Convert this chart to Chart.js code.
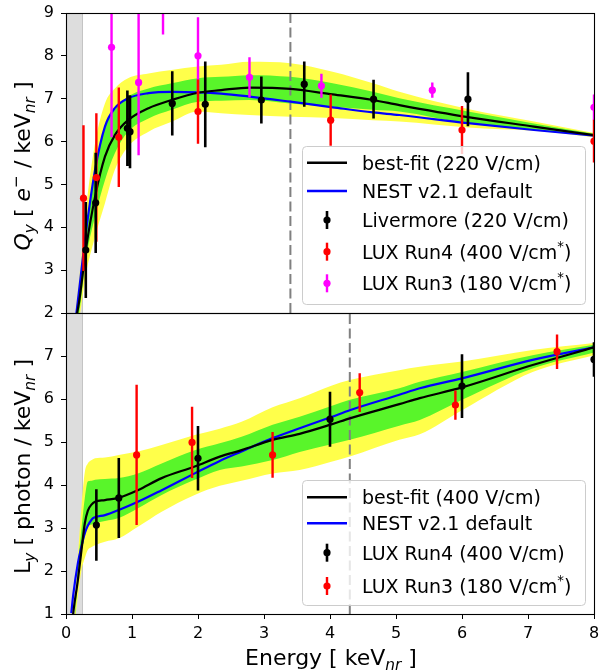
<!DOCTYPE html>
<html>
<head>
<meta charset="utf-8">
<script src="https://cdn.jsdelivr.net/npm/chart.js@4.4.0/dist/chart.umd.min.js"></script>
<style>
  html, body { margin: 0; padding: 0; background: #fff; }
  #wrap { position: relative; width: 600px; height: 671px; }
  canvas { position: absolute; left: 0; }
  #qyChart { top: 0; }
  #lyChart { top: 300px; }
</style>
</head>
<body>
<div id="wrap">
  <canvas id="qyChart" width="600" height="325"></canvas>
  <canvas id="lyChart" width="600" height="371"></canvas>
</div>
<script>
// ---- top panel: charge yield Qy ----
const qyE       = [0.15, 0.2, 0.3, 0.44, 0.59, 0.74, 0.94, 1.25, 1.6, 2.0, 2.35, 2.78, 3.4, 4.04, 4.65, 5.05, 6.09, 7.09, 8.0]
const qyBestFit = [1.85, 2.27, 3.47, 4.71, 5.65, 6.15, 6.50, 6.78, 6.97, 7.14, 7.20, 7.26, 7.23, 7.10, 6.97, 6.85, 6.57, 6.35, 6.15]
const qyNest    = [1.90, 2.55, 3.86, 5.34, 6.35, 6.78, 7.01, 7.13, 7.16, 7.15, 7.12, 7.05, 6.93, 6.80, 6.68, 6.62, 6.43, 6.27, 6.14]
const qy2sHi    = [2.10, 2.80, 4.40, 5.96, 6.89, 7.24, 7.48, 7.59, 7.67, 7.75, 7.79, 7.86, 7.83, 7.63, 7.36, 7.16, 6.76, 6.47, 6.20]
const qy2sLo    = [1.80, 1.90, 2.90, 3.78, 4.56, 5.34, 5.88, 6.23, 6.46, 6.70, 6.66, 6.62, 6.58, 6.55, 6.50, 6.47, 6.33, 6.25, 6.10]
const qy1sHi    = [2.00, 2.60, 3.95, 5.34, 6.35, 6.74, 7.05, 7.24, 7.36, 7.48, 7.51, 7.55, 7.51, 7.36, 7.16, 7.01, 6.70, 6.42, 6.18]
const qy1sLo    = [1.80, 2.00, 3.24, 4.25, 5.10, 5.73, 6.23, 6.54, 6.74, 6.93, 6.95, 6.97, 6.89, 6.81, 6.74, 6.70, 6.42, 6.28, 6.12]

const livE   = [0.30, 0.45, 0.93, 0.97, 1.61, 2.11, 2.96, 3.61, 4.66, 6.09]
const livQ   = [3.47, 4.57, 6.31, 6.23, 6.89, 6.87, 6.97, 7.34, 6.99, 6.99]
const livErr = [1.12, 1.17, 0.88, 0.85, 0.75, 1.00, 0.55, 0.53, 0.45, 0.63]

const run4QE   = [0.265, 0.46, 0.80, 2.0, 4.01, 6.0, 8.0]
const run4Q    = [4.68, 5.16, 6.10, 6.70, 6.50, 6.27, 6.01]
const run4QErr = [1.70, 1.50, 1.16, 0.75, 0.60, 0.56, 0.50]

const run3QE   = [0.69, 1.10, 1.47, 2.0, 2.78, 3.87, 5.55, 8.0]
const run3Q    = [8.20, 7.38, 9.40, 8.00, 7.50, 7.30, 7.20, 6.80]
const run3QErr = [2.10, 1.70, 0.90, 0.90, 0.47, 0.28, 0.18, 0.30]

// ---- bottom panel: light yield Ly ----
const lyE       = [0.08, 0.11, 0.18, 0.235, 0.285, 0.33, 0.39, 0.44, 0.59, 0.80, 1.09, 1.45, 1.95, 2.33, 2.66, 3.13, 3.54, 4.02, 4.30, 5.05, 5.36, 6.0, 7.07, 8.0]
const lyBestFit = [0.50, 1.02, 1.79, 2.49, 3.11, 3.40, 3.55, 3.61, 3.65, 3.70, 3.88, 4.16, 4.43, 4.66, 4.81, 5.05, 5.19, 5.41, 5.55, 5.88, 6.02, 6.27, 6.79, 7.20]
const lyNest    = [1.02, 1.45, 2.18, 2.58, 2.88, 3.05, 3.20, 3.25, 3.30, 3.42, 3.61, 3.88, 4.27, 4.56, 4.78, 5.09, 5.32, 5.58, 5.74, 6.10, 6.25, 6.48, 6.91, 7.20]
const ly2sHi    = [0.50, 0.60, 2.30, 3.50, 4.30, 4.50, 4.58, 4.62, 4.64, 4.70, 4.78, 4.93, 5.16, 5.31, 5.47, 5.81, 6.02, 6.31, 6.44, 6.67, 6.75, 6.87, 7.14, 7.30]
const ly2sLo    = [0.50, 0.60, 1.40, 2.02, 2.30, 2.49, 2.56, 2.60, 2.68, 2.76, 3.03, 3.38, 3.77, 3.98, 4.10, 4.27, 4.35, 4.54, 4.66, 5.05, 5.18, 5.74, 6.63, 7.02]
const ly1sHi    = [0.50, 0.60, 2.10, 3.00, 3.70, 4.08, 4.10, 4.12, 4.14, 4.16, 4.27, 4.50, 4.81, 4.97, 5.12, 5.40, 5.59, 5.84, 5.98, 6.25, 6.40, 6.63, 7.02, 7.26]
const ly1sLo    = [0.50, 0.60, 1.70, 2.40, 2.80, 3.03, 3.08, 3.11, 3.16, 3.23, 3.46, 3.77, 4.12, 4.35, 4.43, 4.58, 4.77, 4.95, 5.05, 5.38, 5.51, 5.98, 6.71, 7.08]

const run4LE   = [0.46, 0.80, 2.0, 4.0, 6.0, 8.0]
const run4L    = [3.07, 3.70, 4.62, 5.53, 6.30, 6.92]
const run4LErr = [0.83, 0.93, 0.75, 0.64, 0.74, 0.40]

const run3LE   = [1.07, 1.91, 3.13, 4.45, 5.90, 7.44]
const run3L    = [4.70, 4.99, 4.70, 6.15, 5.86, 7.10]
const run3LErr = [1.63, 0.83, 0.53, 0.45, 0.34, 0.40]

const xTicks = [0, 1, 2, 3, 4, 5, 6, 7, 8]
const thresholdSpan = [0, 0.25]
const qyCutLine = 3.4
const lyCutLine = 4.3

Chart.defaults.font.family = '"DejaVu Sans"'
Chart.defaults.color = '#000'

const FONT = '"DejaVu Sans"'
const YELLOW = '#ffff4a'
const GREEN = '#59f52a'

function curve(xs, ys) {
  return xs.map((x, i) => ({ x, y: ys[i] }))
}

function errorBars(xs, ys, errs) {
  const pts = []
  xs.forEach((x, i) => {
    pts.push({ x, y: ys[i] - errs[i] }, { x, y: ys[i] + errs[i] }, { x, y: null })
  })
  return pts
}

function line(data, color, width, order, extra) {
  return Object.assign({
    type: 'line', data, borderColor: color, borderWidth: width, pointRadius: 0,
    fill: false, order, clip: 0, cubicInterpolationMode: 'monotone', spanGaps: false
  }, extra || {})
}

function dots(data, color) {
  return {
    type: 'line', data, showLine: false, pointRadius: 3.6, pointBorderWidth: 0,
    pointBackgroundColor: color, borderColor: color, order: 0, clip: 0
  }
}

function bandSets(xs, hi, lo, color, order) {
  return [
    line(curve(xs, hi), 'rgba(0,0,0,0)', 0, order, { fill: '+1', backgroundColor: color }),
    line(curve(xs, lo), 'rgba(0,0,0,0)', 0, order)
  ]
}

// mixed text with sub/superscripts, drawn at the current origin
function richText(ctx, parts, size, align) {
  const fonts = parts.map(p => (p.it ? 'italic ' : '') + ((p.sub || p.sup) ? size * 0.7 : size) + 'px ' + FONT)
  let total = 0
  const widths = parts.map((p, i) => {
    ctx.font = fonts[i]
    const w = ctx.measureText(p.t).width
    total += w
    return w
  })
  let x = align === 'center' ? -total / 2 : 0
  ctx.textAlign = 'left'
  ctx.textBaseline = 'alphabetic'
  parts.forEach((p, i) => {
    ctx.font = fonts[i]
    const dy = p.sub ? size * 0.22 : p.sup ? -size * 0.42 : 0
    ctx.fillText(p.t, x, dy)
    x += widths[i]
  })
}

const spanPlugin = {
  id: 'span',
  beforeDatasetsDraw(chart) {
    const { ctx, chartArea: a, scales: { x } } = chart
    const x0 = x.getPixelForValue(thresholdSpan[0])
    const x1 = x.getPixelForValue(thresholdSpan[1])
    ctx.save()
    ctx.fillStyle = '#dddddd'
    ctx.fillRect(x0, a.top, x1 - x0, a.bottom - a.top)
    ctx.strokeStyle = '#c4c4c4'
    ctx.lineWidth = 1
    ctx.beginPath()
    ctx.moveTo(x1, a.top)
    ctx.lineTo(x1, a.bottom)
    ctx.stroke()
    ctx.restore()
  }
}

const framePlugin = {
  id: 'frame',
  afterDatasetsDraw(chart) {
    const { ctx, chartArea: a } = chart
    ctx.save()
    ctx.strokeStyle = '#000'
    ctx.lineWidth = 1.1
    ctx.strokeRect(Math.round(a.left) + 0.5, Math.round(a.top) + 0.5,
      Math.round(a.right - a.left), Math.round(a.bottom - a.top))
    ctx.restore()
  }
}

const legendPlugin = {
  id: 'boxLegend',
  afterDraw(chart, args, opts) {
    if (!opts.items) return
    const { ctx, chartArea: a } = chart
    const w = 283, h = opts.height
    const left = a.right - 9 - w, top = a.bottom - 9 - h
    ctx.save()
    ctx.fillStyle = 'rgba(255,255,255,0.8)'
    ctx.strokeStyle = '#cccccc'
    ctx.lineWidth = 1
    ctx.beginPath()
    ctx.roundRect(left + 0.5, top + 0.5, w, h, 4)
    ctx.fill()
    ctx.stroke()
    opts.items.forEach((it, i) => {
      const cy = top + opts.rows[i]
      if (it.kind === 'line') {
        ctx.strokeStyle = it.color
        ctx.lineWidth = 2.4
        ctx.beginPath()
        ctx.moveTo(left + 5, cy)
        ctx.lineTo(left + 45, cy)
        ctx.stroke()
      } else {
        ctx.strokeStyle = it.color
        ctx.lineWidth = it.color === '#000000' ? 2.6 : 2.4
        ctx.beginPath()
        ctx.moveTo(left + 25, cy - 9)
        ctx.lineTo(left + 25, cy + 9)
        ctx.stroke()
        ctx.fillStyle = it.color
        ctx.beginPath()
        ctx.arc(left + 25, cy, 3.6, 0, Math.PI * 2)
        ctx.fill()
      }
      ctx.fillStyle = '#000'
      ctx.save()
      ctx.translate(left + 60, cy + 7)
      richText(ctx, it.label, 19, 'left')
      ctx.restore()
    })
    ctx.restore()
  }
}

const titlePlugin = {
  id: 'axisTitles',
  afterDraw(chart, args, opts) {
    const { ctx, chartArea: a } = chart
    ctx.save()
    ctx.fillStyle = '#000'
    if (opts.y) {
      ctx.save()
      ctx.translate(30, (a.top + a.bottom) / 2 + 3)
      ctx.rotate(-Math.PI / 2)
      richText(ctx, opts.y, 22, 'center')
      ctx.restore()
    }
    if (opts.x) {
      ctx.save()
      ctx.translate((a.left + a.right) / 2 + 1, chart.height - 6)
      richText(ctx, opts.x, 22, 'center')
      ctx.restore()
    }
    ctx.restore()
  }
}

// stop tick labels from eating into the plot area
function noScalePadding(s) {
  s.paddingTop = 0
  s.paddingBottom = 0
  s.paddingLeft = 0
  s.paddingRight = 0
}

function panelOptions(yMin, yMax, showX, titles, legend) {
  return {
    responsive: false,
    animation: false,
    devicePixelRatio: 1,
    events: [],
    layout: { autoPadding: false, padding: { top: 13, right: 6, bottom: showX ? 0 : 12, left: 0 } },
    plugins: {
      legend: { display: false },
      tooltip: { enabled: false },
      axisTitles: titles,
      boxLegend: legend
    },
    scales: {
      x: {
        type: 'linear', min: 0, max: 8, display: showX,
        afterBuildTicks: s => { s.ticks = xTicks.map(v => ({ value: v })) },
        afterFit: s => { s.height = showX ? 57 : 0; noScalePadding(s) },
        ticks: { font: { size: 16 }, color: '#000', padding: 5, maxRotation: 0 },
        grid: { drawOnChartArea: false, tickLength: 5, color: '#000', tickWidth: 1 },
        border: { color: '#000', width: 1 }
      },
      y: {
        type: 'linear', min: yMin, max: yMax,
        afterFit: s => { s.width = 66; noScalePadding(s) },
        ticks: {
          stepSize: 1, font: { size: 16 }, color: '#000', padding: 7,
          callback: v => (showX && v === yMax) ? '' : v
        },
        grid: { drawOnChartArea: false, tickLength: 5, color: '#000', tickWidth: 1 },
        border: { color: '#000', width: 1 }
      }
    }
  }
}

function cutLine(xv, yMin, yMax) {
  return line([{ x: xv, y: yMin }, { x: xv, y: yMax }], '#808080', 2, 3,
    { borderDash: [10, 4.5], cubicInterpolationMode: 'default' })
}

const sup = t => ({ t, sup: 1 })
const sub = t => ({ t, sub: 1, it: 1 })

new Chart(document.getElementById('qyChart'), {
  type: 'line',
  data: {
    datasets: [
      dots(curve(livE, livQ), '#000000'),
      dots(curve(run4QE, run4Q), '#ff0000'),
      dots(curve(run3QE, run3Q), '#ff00ff'),
      line(errorBars(livE, livQ, livErr), '#000000', 2.6, 1, { cubicInterpolationMode: 'default' }),
      line(errorBars(run4QE, run4Q, run4QErr), '#ff0000', 2.4, 1, { cubicInterpolationMode: 'default' }),
      line(errorBars(run3QE, run3Q, run3QErr), '#ff00ff', 2.4, 1, { cubicInterpolationMode: 'default' }),
      line(curve(qyE, qyBestFit), '#000000', 2.2, 2),
      line(curve(qyE, qyNest), '#0000ff', 2.2, 2),
      cutLine(qyCutLine, 2, 9),
      ...bandSets(qyE, qy1sHi, qy1sLo, GREEN, 4),
      ...bandSets(qyE, qy2sHi, qy2sLo, YELLOW, 5)
    ]
  },
  options: panelOptions(2, 9, false,
    { y: [{ t: 'Q', it: 1 }, sub('y'), { t: ' [ ' }, { t: 'e', it: 1 }, sup('\u2212'), { t: ' / keV' }, sub('nr'), { t: ' ]' }] },
    {
      height: 158,
      rows: [16.7, 45, 74, 105.7, 137.3],
      items: [
        { kind: 'line', color: '#000000', label: [{ t: 'best-fit (220 V/cm)' }] },
        { kind: 'line', color: '#0000ff', label: [{ t: 'NEST v2.1 default' }] },
        { kind: 'err', color: '#000000', label: [{ t: 'Livermore (220 V/cm)' }] },
        { kind: 'err', color: '#ff0000', label: [{ t: 'LUX Run4 (400 V/cm' }, sup('*'), { t: ')' }] },
        { kind: 'err', color: '#ff00ff', label: [{ t: 'LUX Run3 (180 V/cm' }, sup('*'), { t: ')' }] }
      ]
    }),
  plugins: [spanPlugin, framePlugin, legendPlugin, titlePlugin]
})

new Chart(document.getElementById('lyChart'), {
  type: 'line',
  data: {
    datasets: [
      dots(curve(run4LE, run4L), '#000000'),
      dots(curve(run3LE, run3L), '#ff0000'),
      line(errorBars(run4LE, run4L, run4LErr), '#000000', 2.6, 1, { cubicInterpolationMode: 'default' }),
      line(errorBars(run3LE, run3L, run3LErr), '#ff0000', 2.4, 1, { cubicInterpolationMode: 'default' }),
      line(curve(lyE, lyBestFit), '#000000', 2.2, 2),
      line(curve(lyE, lyNest), '#0000ff', 2.2, 2),
      cutLine(lyCutLine, 1, 8),
      ...bandSets(lyE, ly1sHi, ly1sLo, GREEN, 4),
      ...bandSets(lyE, ly2sHi, ly2sLo, YELLOW, 5)
    ]
  },
  options: panelOptions(1, 8, true,
    {
      y: [{ t: 'L' }, sub('y'), { t: ' [ photon / keV' }, sub('nr'), { t: ' ]' }],
      x: [{ t: 'Energy [ keV' }, sub('nr'), { t: ' ]' }]
    },
    {
      height: 125,
      rows: [17.3, 43.3, 72.7, 106],
      items: [
        { kind: 'line', color: '#000000', label: [{ t: 'best-fit (400 V/cm)' }] },
        { kind: 'line', color: '#0000ff', label: [{ t: 'NEST v2.1 default' }] },
        { kind: 'err', color: '#000000', label: [{ t: 'LUX Run4 (400 V/cm)' }] },
        { kind: 'err', color: '#ff0000', label: [{ t: 'LUX Run3 (180 V/cm' }, sup('*'), { t: ')' }] }
      ]
    }),
  plugins: [spanPlugin, framePlugin, legendPlugin, titlePlugin]
})
</script>
</body>
</html>
